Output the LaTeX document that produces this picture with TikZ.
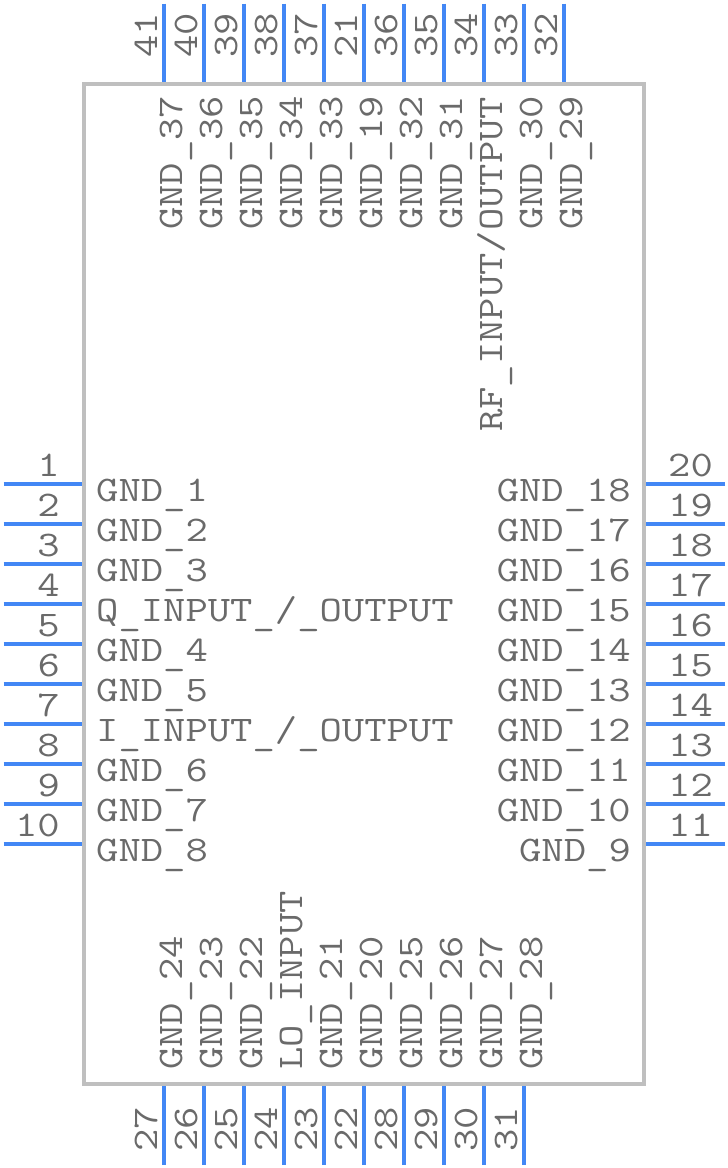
\documentclass[tikz,border=0pt]{standalone}
\usepackage{fontspec}
\newfontfamily\pinfont[FakeStretch=1.205]{Latin Modern Mono}
\newcommand{\lowbar}{\raisebox{-3.5pt}{\_}}
\definecolor{pinblue}{HTML}{4287F5}
\definecolor{bodygray}{HTML}{BFBFBF}
\definecolor{textgray}{HTML}{6A6A6A}

\begin{document}
\begin{tikzpicture}
    [
        x=1pt, y=-1pt,
        body box/.style={draw=bodygray, line width=4pt, inner sep=0pt, minimum width=560pt, minimum height=1000pt},
        pin line/.style={draw=pinblue, line width=4pt},
        pin text/.style={text=textgray, inner sep=0pt, font=\pinfont\fontsize{36}{36}\selectfont},
        left num/.style={pin text, anchor=base east},
        right num/.style={pin text, anchor=base west},
        up num/.style={pin text, rotate=90, anchor=base west},
        left name/.style={pin text, anchor=base west},
        right name/.style={pin text, anchor=base east},
        up name/.style={pin text, rotate=90, anchor=base west}
    ]

    \useasboundingbox (0, 0) rectangle (728, 1168);

    \node [body box] (body) at (364, 584) {};

    % left side
    \coordinate (pin1) at (3.5, 484);
    \coordinate (pin2) at (3.5, 524);
    \coordinate (pin3) at (3.5, 564);
    \coordinate (pin4) at (3.5, 604);
    \coordinate (pin5) at (3.5, 644);
    \coordinate (pin6) at (3.5, 684);
    \coordinate (pin7) at (3.5, 724);
    \coordinate (pin8) at (3.5, 764);
    \coordinate (pin9) at (3.5, 804);
    \coordinate (pin10) at (3.5, 844);

    \draw [pin line] (pin1) -- (pin1 -| body.west);
    \draw [pin line] (pin2) -- (pin2 -| body.west);
    \draw [pin line] (pin3) -- (pin3 -| body.west);
    \draw [pin line] (pin4) -- (pin4 -| body.west);
    \draw [pin line] (pin5) -- (pin5 -| body.west);
    \draw [pin line] (pin6) -- (pin6 -| body.west);
    \draw [pin line] (pin7) -- (pin7 -| body.west);
    \draw [pin line] (pin8) -- (pin8 -| body.west);
    \draw [pin line] (pin9) -- (pin9 -| body.west);
    \draw [pin line] (pin10) -- (pin10 -| body.west);

    \node [left num] (num1) at (60, 476) {1};
    \node [left num] (num2) at (60, 516) {2};
    \node [left num] (num3) at (60, 556) {3};
    \node [left num] (num4) at (60, 596) {4};
    \node [left num] (num5) at (60, 636) {5};
    \node [left num] (num6) at (60, 676) {6};
    \node [left num] (num7) at (60, 716) {7};
    \node [left num] (num8) at (60, 756) {8};
    \node [left num] (num9) at (60, 796) {9};
    \node [left num] (num10) at (60, 836) {10};

    \node [left name] (name1) at (96, 501) {GND\lowbar 1};
    \node [left name] (name2) at (96, 541) {GND\lowbar 2};
    \node [left name] (name3) at (96, 581) {GND\lowbar 3};
    \node [left name] (name4) at (96, 621) {Q\lowbar INPUT\lowbar /\lowbar OUTPUT};
    \node [left name] (name5) at (96, 661) {GND\lowbar 4};
    \node [left name] (name6) at (96, 701) {GND\lowbar 5};
    \node [left name] (name7) at (96, 741) {I\lowbar INPUT\lowbar /\lowbar OUTPUT};
    \node [left name] (name8) at (96, 781) {GND\lowbar 6};
    \node [left name] (name9) at (96, 821) {GND\lowbar 7};
    \node [left name] (name10) at (96, 861) {GND\lowbar 8};

    % right side
    \coordinate (pin20) at (725, 484);
    \coordinate (pin19) at (725, 524);
    \coordinate (pin18) at (725, 564);
    \coordinate (pin17) at (725, 604);
    \coordinate (pin16) at (725, 644);
    \coordinate (pin15) at (725, 684);
    \coordinate (pin14) at (725, 724);
    \coordinate (pin13) at (725, 764);
    \coordinate (pin12) at (725, 804);
    \coordinate (pin11) at (725, 844);

    \draw [pin line] (pin20) -- (pin20 -| body.east);
    \draw [pin line] (pin19) -- (pin19 -| body.east);
    \draw [pin line] (pin18) -- (pin18 -| body.east);
    \draw [pin line] (pin17) -- (pin17 -| body.east);
    \draw [pin line] (pin16) -- (pin16 -| body.east);
    \draw [pin line] (pin15) -- (pin15 -| body.east);
    \draw [pin line] (pin14) -- (pin14 -| body.east);
    \draw [pin line] (pin13) -- (pin13 -| body.east);
    \draw [pin line] (pin12) -- (pin12 -| body.east);
    \draw [pin line] (pin11) -- (pin11 -| body.east);

    \node [right num] (num20) at (668, 476) {20};
    \node [right num] (num19) at (668, 516) {19};
    \node [right num] (num18) at (668, 556) {18};
    \node [right num] (num17) at (668, 596) {17};
    \node [right num] (num16) at (668, 636) {16};
    \node [right num] (num15) at (668, 676) {15};
    \node [right num] (num14) at (668, 716) {14};
    \node [right num] (num13) at (668, 756) {13};
    \node [right num] (num12) at (668, 796) {12};
    \node [right num] (num11) at (668, 836) {11};

    \node [right name] (name20) at (631, 501) {GND\lowbar 18};
    \node [right name] (name19) at (631, 541) {GND\lowbar 17};
    \node [right name] (name18) at (631, 581) {GND\lowbar 16};
    \node [right name] (name17) at (631, 621) {GND\lowbar 15};
    \node [right name] (name16) at (631, 661) {GND\lowbar 14};
    \node [right name] (name15) at (631, 701) {GND\lowbar 13};
    \node [right name] (name14) at (631, 741) {GND\lowbar 12};
    \node [right name] (name13) at (631, 781) {GND\lowbar 11};
    \node [right name] (name12) at (631, 821) {GND\lowbar 10};
    \node [right name] (name11) at (631, 861) {GND\lowbar 9};

    % top side
    \coordinate (pin41) at (164, 3.5);
    \coordinate (pin40) at (204, 3.5);
    \coordinate (pin39) at (244, 3.5);
    \coordinate (pin38) at (284, 3.5);
    \coordinate (pin37) at (324, 3.5);
    \coordinate (pin21) at (364, 3.5);
    \coordinate (pin36) at (404, 3.5);
    \coordinate (pin35) at (444, 3.5);
    \coordinate (pin34) at (484, 3.5);
    \coordinate (pin33) at (524, 3.5);
    \coordinate (pin32) at (564, 3.5);

    \draw [pin line] (pin41) -- (pin41 |- body.north);
    \draw [pin line] (pin40) -- (pin40 |- body.north);
    \draw [pin line] (pin39) -- (pin39 |- body.north);
    \draw [pin line] (pin38) -- (pin38 |- body.north);
    \draw [pin line] (pin37) -- (pin37 |- body.north);
    \draw [pin line] (pin21) -- (pin21 |- body.north);
    \draw [pin line] (pin36) -- (pin36 |- body.north);
    \draw [pin line] (pin35) -- (pin35 |- body.north);
    \draw [pin line] (pin34) -- (pin34 |- body.north);
    \draw [pin line] (pin33) -- (pin33 |- body.north);
    \draw [pin line] (pin32) -- (pin32 |- body.north);

    \node [up num] (num41) at (157, 58) {41};
    \node [up num] (num40) at (197, 58) {40};
    \node [up num] (num39) at (237, 58) {39};
    \node [up num] (num38) at (277, 58) {38};
    \node [up num] (num37) at (317, 58) {37};
    \node [up num] (num21) at (357, 58) {21};
    \node [up num] (num36) at (397, 58) {36};
    \node [up num] (num35) at (437, 58) {35};
    \node [up num] (num34) at (477, 58) {34};
    \node [up num] (num33) at (517, 58) {33};
    \node [up num] (num32) at (557, 58) {32};

    \node [up name] (name41) at (182, 230) {GND\lowbar 37};
    \node [up name] (name40) at (222, 230) {GND\lowbar 36};
    \node [up name] (name39) at (262, 230) {GND\lowbar 35};
    \node [up name] (name38) at (302, 230) {GND\lowbar 34};
    \node [up name] (name37) at (342, 230) {GND\lowbar 33};
    \node [up name] (name21) at (382, 230) {GND\lowbar 19};
    \node [up name] (name36) at (422, 230) {GND\lowbar 32};
    \node [up name] (name35) at (462, 230) {GND\lowbar 31};
    \node [up name] (name34) at (502, 432) {RF\lowbar INPUT/OUTPUT};
    \node [up name] (name33) at (542, 230) {GND\lowbar 30};
    \node [up name] (name32) at (582, 230) {GND\lowbar 29};

    % bottom side
    \coordinate (pin27) at (164, 1165);
    \coordinate (pin26) at (204, 1165);
    \coordinate (pin25) at (244, 1165);
    \coordinate (pin24) at (284, 1165);
    \coordinate (pin23) at (324, 1165);
    \coordinate (pin22) at (364, 1165);
    \coordinate (pin28) at (404, 1165);
    \coordinate (pin29) at (444, 1165);
    \coordinate (pin30) at (484, 1165);
    \coordinate (pin31) at (524, 1165);

    \draw [pin line] (pin27) -- (pin27 |- body.south);
    \draw [pin line] (pin26) -- (pin26 |- body.south);
    \draw [pin line] (pin25) -- (pin25 |- body.south);
    \draw [pin line] (pin24) -- (pin24 |- body.south);
    \draw [pin line] (pin23) -- (pin23 |- body.south);
    \draw [pin line] (pin22) -- (pin22 |- body.south);
    \draw [pin line] (pin28) -- (pin28 |- body.south);
    \draw [pin line] (pin29) -- (pin29 |- body.south);
    \draw [pin line] (pin30) -- (pin30 |- body.south);
    \draw [pin line] (pin31) -- (pin31 |- body.south);

    \node [up num] (num27) at (157, 1152) {27};
    \node [up num] (num26) at (197, 1152) {26};
    \node [up num] (num25) at (237, 1152) {25};
    \node [up num] (num24) at (277, 1152) {24};
    \node [up num] (num23) at (317, 1152) {23};
    \node [up num] (num22) at (357, 1152) {22};
    \node [up num] (num28) at (397, 1152) {28};
    \node [up num] (num29) at (437, 1152) {29};
    \node [up num] (num30) at (477, 1152) {30};
    \node [up num] (num31) at (517, 1152) {31};

    \node [up name] (name27) at (182, 1070) {GND\lowbar 24};
    \node [up name] (name26) at (222, 1070) {GND\lowbar 23};
    \node [up name] (name25) at (262, 1070) {GND\lowbar 22};
    \node [up name] (name24) at (302, 1070) {LO\lowbar INPUT};
    \node [up name] (name23) at (342, 1070) {GND\lowbar 21};
    \node [up name] (name22) at (382, 1070) {GND\lowbar 20};
    \node [up name] (name28) at (422, 1070) {GND\lowbar 25};
    \node [up name] (name29) at (462, 1070) {GND\lowbar 26};
    \node [up name] (name30) at (502, 1070) {GND\lowbar 27};
    \node [up name] (name31) at (542, 1070) {GND\lowbar 28};
    \end{tikzpicture}
\end{document}
